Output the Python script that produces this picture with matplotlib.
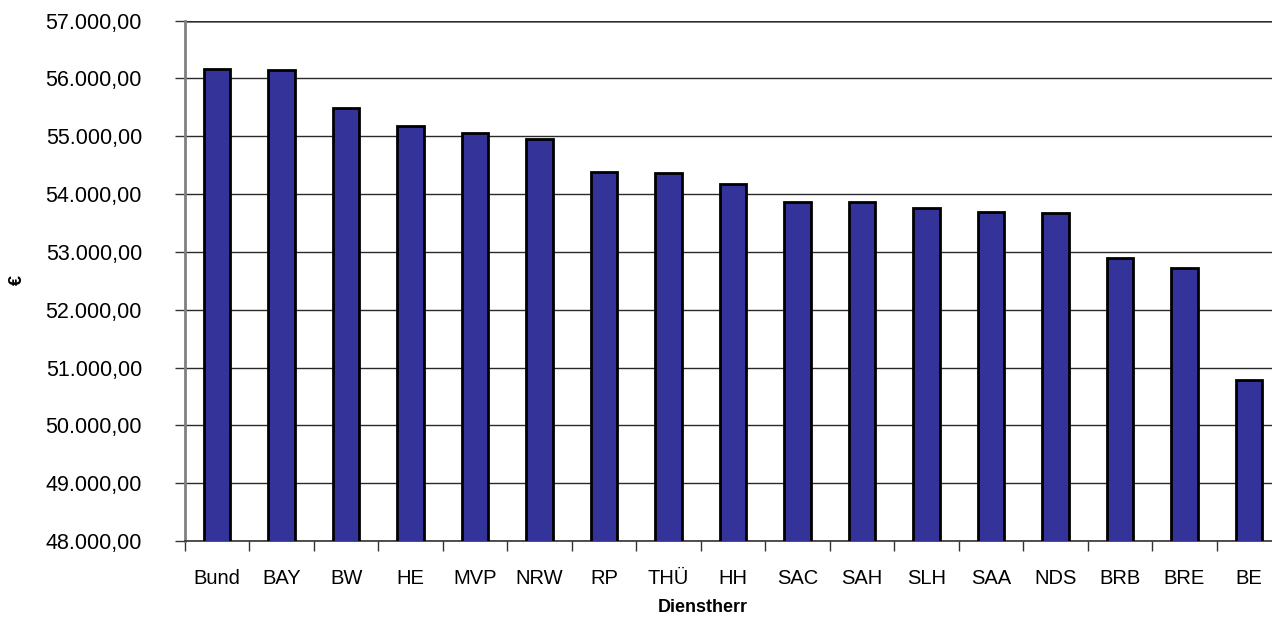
import matplotlib.pyplot as plt
from matplotlib.ticker import FuncFormatter, FixedLocator

plt.rcParams['font.family'] = ['Liberation Sans', 'DejaVu Sans']

# Besoldung je Dienstherr
dienstherren = ['Bund', 'BAY', 'BW', 'HE', 'MVP', 'NRW', 'RP', 'THÜ', 'HH',
                'SAC', 'SAH', 'SLH', 'SAA', 'NDS', 'BRB', 'BRE', 'BE']
werte = [56170, 56140, 55480, 55170, 55050, 54950, 54380, 54365, 54170,
         53865, 53865, 53755, 53690, 53670, 52885, 52715, 50780]
y_ticks = [48000, 49000, 50000, 51000, 52000, 53000, 54000, 55000, 56000, 57000]


def de_format(v, pos=None):
    s = f'{v:,.2f}'
    return s.replace(',', 'X').replace('.', ',').replace('X', '.')


fig = plt.figure(figsize=(12.72, 6.17), dpi=100)
# axes run a bit past the right edge, as in the original (cropped) chart
ax = fig.add_axes([185 / 1272, 76 / 617, 1096 / 1272, 520.5 / 617])

x = list(range(len(dienstherren)))
ax.bar(x, werte, width=0.41, color='#333399', edgecolor='black',
       linewidth=2, zorder=3)

ax.set_ylim(48000, 57000)
ax.set_xlim(-0.5, len(dienstherren) - 0.5)

ax.yaxis.set_major_locator(FixedLocator(y_ticks))
ax.yaxis.set_major_formatter(FuncFormatter(de_format))
ax.grid(axis='y', color='#2a2a2a', linewidth=1, zorder=0)

# ticks between categories, labels centred under bars
ax.set_xticks([i - 0.5 for i in range(len(dienstherren) + 1)])
ax.set_xticklabels([])
ax.set_xticks(x, minor=True)
ax.set_xticklabels(dienstherren, minor=True)
ax.tick_params(axis='x', which='major', length=7, width=1, color='#333333',
               direction='out')
ax.tick_params(axis='x', which='minor', length=0, pad=20, labelsize=14.5)
ax.tick_params(axis='y', length=7, width=1, color='#333333', pad=24,
               labelsize=15.5)

for side in ['top', 'right']:
    ax.spines[side].set_visible(False)
ax.spines['left'].set_color('#808080')
ax.spines['left'].set_linewidth(2)
ax.spines['bottom'].set_color('#333333')
ax.spines['bottom'].set_linewidth(1.2)
ax.axhline(57000, color='#808080', linewidth=2, zorder=1)

fig.text(703 / 1272, 1 - 608 / 617, 'Dienstherr', ha='center', va='center',
         fontsize=13, fontweight='bold')
fig.text(17 / 1272, 1 - 280 / 617, '€', ha='center', va='center',
         rotation=90, fontsize=13, fontweight='bold')

plt.savefig('out.png', dpi=100)
